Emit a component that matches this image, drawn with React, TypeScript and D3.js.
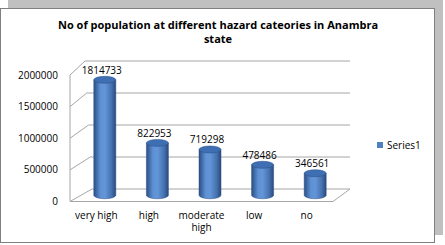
import React from "react";
import * as d3 from "d3";

const categories: string[][] = [["very high"], ["high"], ["moderate", "high"], ["low"], ["no"]];
const values: number[] = [1814733, 822953, 719298, 478486, 346561];
const ticks: number[] = [0, 500000, 1000000, 1500000, 2000000];
const seriesName = "Series1";
const titleLines = ["No of population at different hazard cateories in Anambra", "state"];

const W = 445;
const H = 245;
const FONT = "'Open Sans', 'Liberation Sans', sans-serif";

export default function App() {
  const maxV = 2000000;
  // front plane
  const yF = d3.scaleLinear().domain([0, maxV]).range([201.5, 75]);
  // back plane
  const yB = d3.scaleLinear().domain([0, maxV]).range([189, 61]);
  const backLeft = d3.scaleLinear().domain([0, maxV]).range([92, 85]);
  const frontL = 70, frontR = 333, backR = 350;
  const xF = d3.scaleBand<number>().domain(d3.range(values.length)).range([frontL, frontR]);
  const depthX = 8.5;
  const yM = (v: number) => (yF(v) + yB(v)) / 2;
  const barW = 22;
  const ry = 3.5;
  const grid = "#a6a6a6";

  return (
    <svg width={W} height={H} style={{ position: "absolute", left: 0, top: 0 }} fontFamily={FONT}>
      <defs>
        <linearGradient id="cyl" x1="0" x2="1" y1="0" y2="0">
          <stop offset="0%" stopColor="#2a4f86" />
          <stop offset="30%" stopColor="#5e90d4" />
          <stop offset="50%" stopColor="#6396d8" />
          <stop offset="80%" stopColor="#4672b0" />
          <stop offset="100%" stopColor="#284a7c" />
        </linearGradient>
      </defs>
      <rect x={0} y={0} width={W} height={H} fill="#fff" />
      <rect x={8} y={0} width={435} height={235} fill="#c0c0c0" />
      <rect x={0.5} y={8.5} width={434} height={234} fill="#fff" stroke="#7f7f7f" />
      {titleLines.map((t, i) => (
        <text key={i} x={218} y={29 + i * 14} textAnchor="middle" fontSize={11} fontWeight="bold" fill="#000">
          {t}
        </text>
      ))}
      {/* gridlines */}
      {ticks.map((t) => (
        <g key={t}>
          <polyline
            points={`${frontL},${yF(t)} ${backLeft(t)},${yB(t)} ${backR},${yB(t)}`}
            fill="none"
            stroke={grid}
            strokeWidth={1}
          />
          <text x={58} y={yF(t) + 3.5} textAnchor="end" fontSize={10} fill="#000">
            {t}
          </text>
        </g>
      ))}
      {/* floor */}
      <polyline
        points={`${frontL},${yF(0)} ${frontR},${yF(0)} ${backR},${yB(0)}`}
        fill="none"
        stroke={grid}
      />
      <line x1={frontL} x2={frontL} y1={yF(0)} y2={yF(maxV)} stroke={grid} />
      {/* bars */}
      {values.map((v, i) => {
        const cx = (xF(i) as number) + xF.bandwidth() / 2 + depthX;
        const yb = yM(0);
        const yt = yM(v);
        const x0 = cx - barW / 2, x1 = cx + barW / 2;
        const body = `M${x0},${yt} L${x0},${yb} A${barW / 2},${ry} 0 0 0 ${x1},${yb} L${x1},${yt} Z`;
        return (
          <g key={i}>
            <path d={body} fill="url(#cyl)" stroke="#2a4d80" strokeWidth={0.5} />
            <ellipse cx={cx} cy={yt} rx={barW / 2} ry={ry} fill="#3f6fb3" stroke="#2a4d80" strokeWidth={0.5} />
            <text x={cx - 3} y={yt - 6} textAnchor="middle" fontSize={10} fill="#000">
              {v}
            </text>
          </g>
        );
      })}
      {/* category labels */}
      {categories.map((c, i) => {
        const cx = (xF(i) as number) + xF.bandwidth() / 2;
        return (
          <text key={i} x={cx} y={218.5} textAnchor="middle" fontSize={10} fill="#000">
            {c.map((l, j) => (
              <tspan key={j} x={cx} dy={j === 0 ? 0 : 12.5}>
                {l}
              </tspan>
            ))}
          </text>
        );
      })}
      {/* legend */}
      <rect x={377} y={142} width={6} height={6} fill="#4f81bd" />
      <text x={387} y={148.5} fontSize={10} fill="#000">
        {seriesName}
      </text>
    </svg>
  );
}
